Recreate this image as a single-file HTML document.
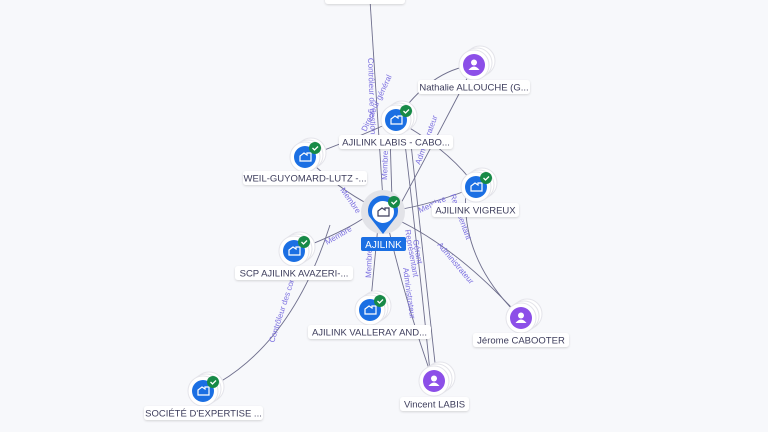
<!DOCTYPE html>
<html><head><meta charset="utf-8"><style>
html,body{margin:0;padding:0;background:#f7f8fb;}
svg{display:block;font-family:"Liberation Sans",sans-serif;}
.lbl{font-size:9.5px;fill:#3d3d5c;}
.el{font-size:8px;fill:#7b6fe0;}
</style></head><body>
<svg width="768" height="432" viewBox="0 0 768 432">
<defs>
<filter id="sh" x="-50%" y="-50%" width="200%" height="200%"><feDropShadow dx="0" dy="1" stdDeviation="1" flood-color="#000" flood-opacity="0.15"/></filter>
<g id="co">
 <circle cx="6" cy="-4" r="15" fill="#fff" stroke="#e4e4ea"/>
 <circle cx="3" cy="-2" r="15" fill="#fff" stroke="#e4e4ea"/>
 <circle cx="0" cy="0" r="15" fill="#fff" stroke="#e4e4ea"/>
 <circle r="11" fill="#1b6fe3"/>
 <path d="M-5 4 v-5 l4-3 l3 2 v-2 h4 v8 z" fill="none" stroke="#fff" stroke-width="1.2"/>
 <circle cx="10" cy="-9" r="6" fill="#178a47"/>
 <path d="M7.5 -9 l2 2 l3.5-3.5" fill="none" stroke="#fff" stroke-width="1.3"/>
</g>
<g id="pe">
 <circle cx="6" cy="-4" r="15" fill="#fff" stroke="#e4e4ea"/>
 <circle cx="3" cy="-2" r="15" fill="#fff" stroke="#e4e4ea"/>
 <circle cx="0" cy="0" r="15" fill="#fff" stroke="#e4e4ea"/>
 <circle r="11" fill="#8c4fe8"/>
 <circle cy="-2.5" r="3" fill="#fff"/>
 <path d="M-5.5 5 q5.5-7 11 0 z" fill="#fff"/>
</g>
</defs>
<g fill="none" stroke="#6e6e8c" stroke-width="0.9">
 <path d="M370 0 L383 200"/>
 <path d="M396 120 Q430 70 474 65"/>
 <path d="M396 120 Q450 150 476 187"/>
 <path d="M474 65 Q430 150 400 205"/>
 <path d="M305 157 Q340 145 396 120"/>
 <path d="M305 157 Q340 190 370 205"/>
 <path d="M390 135 L392 200"/>
 <path d="M404 135 Q420 270 430 372"/>
 <path d="M410 135 Q425 270 436 372"/>
 <path d="M476 187 Q430 205 396 210"/>
 <path d="M466 190 Q460 260 521 318"/>
 <path d="M398 220 Q460 250 521 318"/>
 <path d="M294 251 Q350 230 372 212"/>
 <path d="M203 391 Q290 350 330 225"/>
 <path d="M370 310 L378 226"/>
 <path d="M388 226 Q405 300 430 372"/>
</g>
<g class="el">
 <text transform="translate(368,58) rotate(88)">Contrôleur de gestion</text>
 <text transform="translate(366,132) rotate(-65)">Directeur général</text>
 <text transform="translate(420,165) rotate(-70)">Administrateur</text>
 <text transform="translate(387,180) rotate(-88)">Membre</text>
 <text transform="translate(340,190) rotate(55)">Membre</text>
 <text transform="translate(420,213) rotate(-25)">Membre</text>
 <text transform="translate(450,195) rotate(70)">Représentant</text>
 <text transform="translate(327,245) rotate(-30)">Membre</text>
 <text transform="translate(274,343) rotate(-72)">Contrôleur des com.</text>
 <text transform="translate(371,278) rotate(-88)">Membre</text>
 <text transform="translate(405,230) rotate(80)">Représentant</text>
 <text transform="translate(413,240) rotate(80)">Gérant</text>
 <text transform="translate(403,268) rotate(82)">Administrateur</text>
 <text transform="translate(437,245) rotate(50)">Administrateur</text>
</g>
<!-- top cut label -->
<rect x="325" y="-10" width="80" height="14" rx="3" fill="#fff" filter="url(#sh)"/>
<use href="#pe" x="474" y="65"/>
<use href="#co" x="396" y="120"/>
<use href="#co" x="305" y="157"/>
<use href="#co" x="476" y="187"/>
<use href="#co" x="294" y="251"/>
<use href="#co" x="370" y="310"/>
<use href="#pe" x="521" y="318"/>
<use href="#pe" x="434" y="381"/>
<use href="#co" x="203" y="391"/>
<!-- center -->
<circle cx="383" cy="212" r="22" fill="#e2e3e8"/>
<path d="M369 216 A15 15 0 1 1 397 216 L383 234 Z" fill="#1b6fe3"/>
<circle cx="383" cy="212" r="11" fill="#fff"/>
<path d="M378 216 v-5 l4-3 l3 2 v-2 h4 v8 z" fill="none" stroke="#3d3d5c" stroke-width="1.2"/>
<circle cx="394" cy="202" r="6" fill="#178a47"/>
<path d="M391.5 202 l2 2 l3.5-3.5" fill="none" stroke="#fff" stroke-width="1.3"/>
<rect x="361" y="237" width="45" height="14" rx="2" fill="#1b6fe3"/>
<text x="383.5" y="248" text-anchor="middle" style="font-size:10px;fill:#fff">AJILINK</text>
<g filter="url(#sh)" fill="#fff">
 <rect x="418" y="80" width="112" height="14" rx="3"/>
 <rect x="339" y="135" width="114" height="14" rx="3"/>
 <rect x="243" y="171" width="124" height="14" rx="3"/>
 <rect x="432" y="203" width="87" height="14" rx="3"/>
 <rect x="235" y="266" width="118" height="14" rx="3"/>
 <rect x="308" y="325" width="123" height="14" rx="3"/>
 <rect x="473" y="333" width="96" height="14" rx="3"/>
 <rect x="400" y="397" width="69" height="14" rx="3"/>
 <rect x="144" y="406" width="119" height="14" rx="3"/>
</g>
<g class="lbl" text-anchor="middle">
 <text x="474" y="90.5">Nathalie ALLOUCHE (G...</text>
 <text x="396" y="145.5">AJILINK LABIS - CABO...</text>
 <text x="305" y="181.5">WEIL-GUYOMARD-LUTZ -...</text>
 <text x="475.5" y="213.5">AJILINK VIGREUX</text>
 <text x="294" y="276.5">SCP AJILINK AVAZERI-...</text>
 <text x="369.5" y="335.5">AJILINK VALLERAY AND...</text>
 <text x="521" y="343.5">Jérome CABOOTER</text>
 <text x="434.5" y="407.5">Vincent LABIS</text>
 <text x="203.5" y="416.5">SOCIÉTÉ D'EXPERTISE ...</text>
</g>
</svg>
</body></html>
